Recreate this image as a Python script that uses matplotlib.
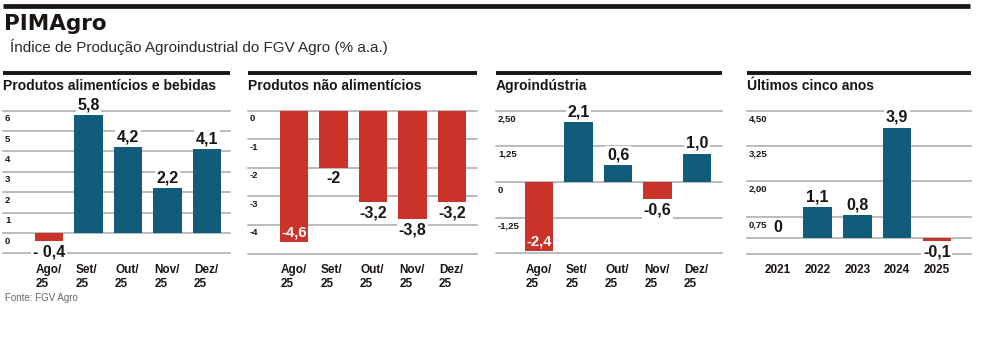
import matplotlib.pyplot as plt
import numpy as np

# -------------------------------
# Data
# -------------------------------
months = ['Ago/\n25', 'Set/\n25', 'Out/\n25', 'Nov/\n25', 'Dez/\n25']
years = ['2021', '2022', '2023', '2024', '2025']

alim_vals = [-0.4, 5.8, 4.2, 2.2, 4.1]
alim_text = ['- 0,4', '5,8', '4,2', '2,2', '4,1']
alim_ticks = [6, 5, 4, 3, 2, 1, 0]
alim_ticklabels = ['6', '5', '4', '3', '2', '1', '0']

nalim_vals = [-4.6, -2.0, -3.2, -3.8, -3.2]
nalim_text = ['-4,6', '-2', '-3,2', '-3,8', '-3,2']
nalim_ticks = [0, -1, -2, -3, -4]
nalim_ticklabels = ['0', '-1', '-2', '-3', '-4']

agro_vals = [-2.4, 2.1, 0.6, -0.6, 1.0]
agro_text = ['-2,4', '2,1', '0,6', '-0,6', '1,0']
agro_ticks = [2.5, 1.25, 0, -1.25]
agro_ticklabels = ['2,50', '1,25', '0', '-1,25']

anos_vals = [0.0, 1.1, 0.8, 3.9, -0.1]
anos_text = ['0', '1,1', '0,8', '3,9', '-0,1']
anos_ticks = [4.5, 3.25, 2.0, 0.75]
anos_ticklabels = ['4,50', '3,25', '2,00', '0,75']

# -------------------------------
# Style
# -------------------------------
W, H = 984, 361
BLUE = '#115b7b'
RED = '#c93329'
GRID = '#a8a8a8'
DARK = '#1a1512'
NARROW = ['Liberation Sans Narrow', 'Liberation Sans', 'DejaVu Sans']
SANS = ['Liberation Sans', 'DejaVu Sans']

fig = plt.figure(figsize=(W / 100, H / 100), dpi=100)
fig.patch.set_facecolor('white')


def px_axes(left, top, right, bottom):
    return fig.add_axes([left / W, 1 - bottom / H, (right - left) / W, (bottom - top) / H])


def hline(x0, x1, y, lw, color):
    fig.add_artist(plt.Line2D([x0 / W, x1 / W], [1 - y / H, 1 - y / H],
                              color=color, lw=lw, solid_capstyle='butt'))


# header
hline(3, 970, 6, 3.4, DARK)
fig.text(4 / W, 1 - 24 / H, 'PIMAgro', fontsize=15.5, fontweight='heavy',
         family='DejaVu Sans', color=DARK, va='center', ha='left')
fig.text(10 / W, 1 - 47 / H, 'Índice de Produção Agroindustrial do FGV Agro (% a.a.)',
         fontsize=11, family=NARROW, color='#2a2a2a', va='center', ha='left')
fig.text(5 / W, 1 - 298 / H, 'Fonte: FGV Agro', fontsize=7, family=NARROW,
         color='#666666', va='center', ha='left')


def panel(box, title, labels, vals, texts, ticks, ticklabels, ylim, xlim,
          extra_lines=(), year_axis=False):
    left, right = box
    top_px, bot_px = 110.7, 253.5
    hline(left, right, 73, 2.8, DARK)
    fig.text(left / W, 1 - 86 / H, title, fontsize=10, fontweight='bold',
             family=NARROW, color=DARK, va='center', ha='left')

    ax = px_axes(left, top_px, right, bot_px)
    ax.set_xlim(*xlim)
    ax.set_ylim(*ylim)
    ax.axis('off')
    px_per_unit = (bot_px - top_px) / (ylim[1] - ylim[0])

    for t in list(ticks) + list(extra_lines) + [ylim[0]]:
        ax.axhline(t, color=GRID, lw=1.1, zorder=0, clip_on=False)
    for t, lab in zip(ticks, ticklabels):
        ax.annotate(lab, (xlim[0], t), xytext=(1.5, -2.5), textcoords='offset points',
                    fontsize=6.8, fontweight='bold', family=SANS, color=DARK,
                    ha='left', va='top', annotation_clip=False)

    x = np.arange(len(vals))
    colors = [BLUE if v >= 0 else RED for v in vals]
    ax.bar(x, vals, width=0.72, color=colors, zorder=2)

    for xi, v, s in zip(x, vals, texts):
        room = (v - ylim[0]) * px_per_unit
        if v >= 0:
            ax.annotate(s, (xi, v), xytext=(0, 2), textcoords='offset points',
                        fontsize=11.5, fontweight='bold', family=SANS, color=DARK,
                        ha='center', va='bottom', zorder=3, annotation_clip=False,
                        bbox=dict(boxstyle='square,pad=0.1', fc='white', ec='none'))
        elif room < 16 and abs(v) * px_per_unit > 25:
            # no room below the axis: label sits inside the bar
            ax.annotate(s, (xi, v), xytext=(0, 1.5), textcoords='offset points',
                        fontsize=10.5, fontweight='bold', family=SANS, color='white',
                        ha='center', va='bottom', zorder=3)
        else:
            ax.annotate(s, (xi, v), xytext=(0, -2.5), textcoords='offset points',
                        fontsize=11.5, fontweight='bold', family=SANS, color=DARK,
                        ha='center', va='top', zorder=3, annotation_clip=False,
                        bbox=dict(boxstyle='square,pad=0.1', fc='white', ec='none'))

    for xi, lab in zip(x, labels):
        if year_axis:
            ax.annotate(lab, (xi, ylim[0]), xytext=(0, -12), textcoords='offset points',
                        fontsize=8.5, fontweight='bold', family=SANS, color=DARK,
                        ha='center', va='center', annotation_clip=False)
        else:
            ax.annotate(lab, (xi - 0.33, ylim[0]), xytext=(0, -7.5), textcoords='offset points',
                        fontsize=8.5, fontweight='bold', family=SANS, color=DARK,
                        ha='left', va='top', linespacing=1.2, annotation_clip=False)
    return ax


panel((3, 230), 'Produtos alimentícios e bebidas', months, alim_vals, alim_text,
      alim_ticks, alim_ticklabels, (-1, 6), (-1.165, 4.58))
panel((248, 477), 'Produtos não alimentícios', months, nalim_vals, nalim_text,
      nalim_ticks, nalim_ticklabels, (-5, 0), (-1.165, 4.63))
panel((496, 722), 'Agroindústria', months, agro_vals, agro_text,
      agro_ticks, agro_ticklabels, (-2.5, 2.5), (-1.09, 4.63))
panel((747, 971), 'Últimos cinco anos', years, anos_vals, anos_text,
      anos_ticks, anos_ticklabels, (-0.55, 4.5), (-0.78, 4.86),
      extra_lines=[0], year_axis=True)

fig.savefig('out.png', dpi=100, facecolor='white')
